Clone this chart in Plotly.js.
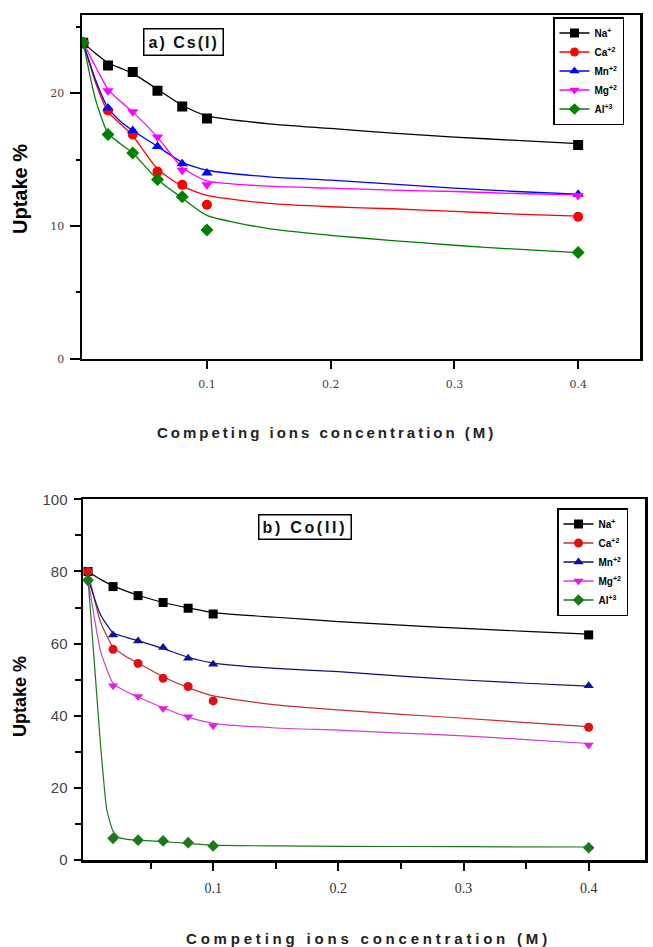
<!DOCTYPE html>
<html><head><meta charset="utf-8">
<script src="https://cdn.plot.ly/plotly-3.0.1.min.js"></script>
<style>html,body{margin:0;padding:0;background:#fff}#chart{width:653px;height:947px}</style>
</head><body><div id="chart"></div>
<script>
// ---------- data ----------
const ions = ['Na<sup>+</sup>', 'Ca<sup>+2</sup>', 'Mn<sup>+2</sup>', 'Mg<sup>+2</sup>', 'Al<sup>+3</sup>'];
const concX = [0, 0.02, 0.04, 0.06, 0.08, 0.1, 0.4];

// a) Cs(I) measured uptake %
const csNa = [23.8, 22.1, 21.6, 20.2, 19.0, 18.1, 16.1];
const csCa = [23.8, 18.7, 16.9, 14.1, 13.1, 11.6, 10.7];
const csMn = [23.8, 18.9, 17.2, 16.0, 14.7, 14.0, 12.4];
const csMg = [23.8, 20.2, 18.6, 16.7, 14.2, 13.1, 12.3];
const csAl = [23.8, 16.9, 15.5, 13.5, 12.2, 9.7, 8.0];

// a) Cs(I) fitted curves (read from picture)
const fitX = [0, 0.01, 0.02, 0.03, 0.04, 0.06, 0.08, 0.1, 0.15, 0.2, 0.25, 0.3, 0.35, 0.4];
const csNaFit = [23.8, 23.0, 22.3, 21.9, 21.5, 20.3, 19.1, 18.3, 17.7, 17.35, 17.0, 16.7, 16.45, 16.2];
const csCaFit = [23.8, 20.8, 18.6, 17.7, 16.8, 14.3, 13.0, 12.3, 11.7, 11.45, 11.3, 11.1, 10.9, 10.75];
const csMnFit = [23.8, 21.0, 18.9, 17.9, 17.2, 16.0, 14.8, 14.2, 13.7, 13.45, 13.15, 12.85, 12.6, 12.4];
const csMgFit = [23.8, 22.0, 20.3, 19.4, 18.6, 16.7, 14.4, 13.4, 13.0, 12.85, 12.7, 12.6, 12.45, 12.35];
const csAlFit = [23.8, 19.5, 17.0, 16.2, 15.5, 13.5, 12.1, 10.8, 9.8, 9.3, 8.9, 8.55, 8.25, 8.0];

// b) Co(II) measured uptake %
const coNa = [80.0, 75.8, 73.3, 71.4, 69.8, 68.2, 62.4];
const coCa = [80.0, 58.4, 54.5, 50.4, 48.1, 44.1, 36.8];
const coMn = [78.0, 62.4, 60.7, 58.9, 55.9, 54.3, 48.3];
const coMg = [77.0, 48.3, 45.3, 42.0, 39.7, 37.2, 31.9];
const coAl = [77.6, 6.0, 5.5, 5.3, 4.8, 3.9, 3.4];

// b) Co(II) fitted curves (read from picture)
const coNaFit = [80, 77.8, 76.0, 74.6, 73.4, 71.4, 69.9, 68.6, 67.3, 66.1, 65.1, 64.2, 63.4, 62.6];
const coCaFit = [80, 66, 59.0, 56.5, 54.6, 50.8, 47.8, 45.5, 43.0, 41.6, 40.4, 39.3, 38.1, 37.0];
const coMnFit = [78, 68, 63.0, 61.8, 60.8, 58.6, 56.2, 54.6, 53.1, 52.2, 51.0, 49.9, 49.0, 48.2];
const coMgFit = [78, 58, 49.0, 46.8, 45.2, 42.2, 39.6, 37.9, 36.6, 36.0, 35.2, 34.4, 33.4, 32.3];
const coAlFitX = [0, 0.005, 0.01, 0.015, 0.02, 0.025, 0.03, 0.04, 0.06, 0.08, 0.1, 0.15, 0.2, 0.3, 0.4];
const coAlFit = [78, 55, 32, 14, 8, 6.2, 5.8, 5.5, 5.1, 4.6, 4.1, 3.9, 3.8, 3.7, 3.6];

const tickValsX = [0.1, 0.2, 0.3, 0.4];
const tickTextX = ['0.1', '0.2', '0.3', '0.4'];
const tickValsYA = [0, 10, 20];
const tickValsYB = [0, 20, 40, 60, 80, 100];

const yTitle = 'Uptake %';
const xTitle = 'Competing ions concentration (M)';
const labelA = 'a) Cs(I)';
const labelB = 'b) Co(II)';

// ---------- styles ----------
const spaced = (t, px) => '<span style="letter-spacing:' + px + 'px">' + t + '</span>';
const symbols = ['square', 'circle', 'triangle-up', 'triangle-down', 'diamond'];
const colA = ['#000000', '#ff0000', '#0000ff', '#ff00ff', '#008000'];
const colB = ['#000000', '#e01010', '#1010a0', '#e020e0', '#1a7a1a'];
const lineColB = ['#000000', '#c03030', '#101070', '#d040d0', '#1a7a1a'];

const csMeas = [csNa, csCa, csMn, csMg, csAl];
const csFit = [csNaFit, csCaFit, csMnFit, csMgFit, csAlFit];
const coMeas = [coNa, coCa, coMn, coMg, coAl];
const coFit = [coNaFit, coCaFit, coMnFit, coMgFit, coAlFit];
const coFitXs = [fitX, fitX, fitX, fitX, coAlFitX];

const traces = [];
for (let i = 0; i < 5; i++) {
  traces.push({x: fitX, y: csFit[i], xaxis: 'x', yaxis: 'y', mode: 'lines', line: {color: colA[i], width: 1.3, shape: 'spline', smoothing: 0.6}, showlegend: false, hoverinfo: 'skip'});
}
for (let i = 0; i < 5; i++) {
  traces.push({x: concX, y: csMeas[i], xaxis: 'x', yaxis: 'y', mode: 'markers', marker: {symbol: symbols[i], color: colA[i], size: 10}, showlegend: false});
}
for (let i = 0; i < 5; i++) {
  traces.push({x: [null], y: [null], xaxis: 'x', yaxis: 'y', mode: 'lines+markers', name: ions[i], legend: 'legend', marker: {symbol: symbols[i], color: colA[i], size: 9}, line: {color: colA[i], width: 1.3}});
}
for (let i = 0; i < 5; i++) {
  traces.push({x: coFitXs[i], y: coFit[i], xaxis: 'x2', yaxis: 'y2', mode: 'lines', line: {color: lineColB[i], width: 1.2, shape: 'spline', smoothing: 0.5}, showlegend: false, hoverinfo: 'skip'});
}
for (let i = 0; i < 5; i++) {
  traces.push({x: concX, y: coMeas[i], xaxis: 'x2', yaxis: 'y2', mode: 'markers', marker: {symbol: symbols[i], color: colB[i], size: 9}, showlegend: false});
}
for (let i = 0; i < 5; i++) {
  traces.push({x: [null], y: [null], xaxis: 'x2', yaxis: 'y2', mode: 'lines+markers', name: ions[i], legend: 'legend2', marker: {symbol: symbols[i], color: colB[i], size: 9}, line: {color: lineColB[i], width: 1.3}});
}

const W = 653, H = 947;
const frame = {showline: true, mirror: true, linecolor: '#000', linewidth: 2.5, showgrid: false, zeroline: false, ticks: 'outside', tickcolor: '#000', tickwidth: 2, automargin: false, fixedrange: true};

const layout = {
  width: W, height: H,
  margin: {l: 0, r: 0, t: 0, b: 0},
  paper_bgcolor: '#fff', plot_bgcolor: '#fff',
  font: {family: 'Liberation Sans, Arial, sans-serif', color: '#000'},
  showlegend: true,
  xaxis: Object.assign({}, frame, {domain: [82 / W, 640 / W], range: [-0.001, 0.450], anchor: 'y',
    tickvals: tickValsX, ticktext: tickTextX, ticklen: 8, ticklabelstandoff: 6,
    tickfont: {size: 11, color: '#444', family: 'DejaVu Serif'}}),
  yaxis: Object.assign({}, frame, {domain: [1 - 358.7 / H, 1 - 15 / H], range: [0, 25.9], anchor: 'x',
    tickvals: tickValsYA, ticklen: 10, ticklabelstandoff: 3,
    minor: {tickvals: [5, 15, 25], ticklen: 4, tickcolor: '#000', tickwidth: 2, ticks: 'outside'},
    tickfont: {size: 11, color: '#444', family: 'DejaVu Serif'}}),
  xaxis2: Object.assign({}, frame, {domain: [83 / W, 645 / W], range: [-0.004, 0.445], anchor: 'y2',
    tickvals: tickValsX, ticktext: tickTextX, ticklen: 8, ticklabelstandoff: 6,
    minor: {tickvals: [0.05, 0.15, 0.25, 0.35], ticklen: 6, tickcolor: '#000', tickwidth: 2, ticks: 'outside'},
    tickfont: {size: 14, color: '#333', family: 'Liberation Serif'}}),
  yaxis2: Object.assign({}, frame, {domain: [1 - 860 / H, 1 - 499.3 / H], range: [0, 100], anchor: 'x2',
    tickvals: tickValsYB, ticklen: 7, ticklabelstandoff: 3,
    minor: {tickvals: [10, 30, 50, 70, 90], ticklen: 6, tickcolor: '#000', tickwidth: 2, ticks: 'outside'},
    tickfont: {size: 15, color: '#444', family: 'Liberation Sans'}}),
  legend: {x: 553 / W, y: 1 - 17 / H, xanchor: 'left', yanchor: 'top', bgcolor: '#fff', bordercolor: '#000', borderwidth: 1.5,
    font: {size: 10, family: 'Liberation Sans', color: '#000', weight: 'bold'}, tracegroupgap: 0, itemwidth: 30},
  legend2: {x: 557 / W, y: 1 - 508 / H, xanchor: 'left', yanchor: 'top', bgcolor: '#fff', bordercolor: '#000', borderwidth: 1.5,
    font: {size: 10, family: 'Liberation Sans', color: '#000', weight: 'bold'}, tracegroupgap: 0, itemwidth: 30},
  annotations: [
    {text: spaced(labelA, 2), xref: 'paper', yref: 'paper', x: 183 / W, y: 1 - 42 / H, xanchor: 'center', yanchor: 'middle', showarrow: false,
     font: {size: 16, family: 'Liberation Sans', weight: 'bold', color: '#111'}, bordercolor: '#000', borderwidth: 1.5, borderpad: 4, bgcolor: '#fff'},
    {text: spaced(labelB, 2.7), xref: 'paper', yref: 'paper', x: 305 / W, y: 1 - 527 / H, xanchor: 'center', yanchor: 'middle', showarrow: false,
     font: {size: 16, family: 'Liberation Sans', weight: 'bold', color: '#111'}, bordercolor: '#000', borderwidth: 1.5, borderpad: 3, bgcolor: '#fff'},
    {text: yTitle, xref: 'paper', yref: 'paper', x: 20 / W, y: 1 - 189 / H, xanchor: 'center', yanchor: 'middle', textangle: -90, showarrow: false,
     font: {size: 20, family: 'Liberation Sans', weight: 'bold'}},
    {text: yTitle, xref: 'paper', yref: 'paper', x: 20 / W, y: 1 - 697 / H, xanchor: 'center', yanchor: 'middle', textangle: -90, showarrow: false,
     font: {size: 18, family: 'Liberation Sans', weight: 'bold'}},
    {text: spaced(xTitle, 3), xref: 'paper', yref: 'paper', x: 326 / W, y: 1 - 432 / H, xanchor: 'center', yanchor: 'middle', showarrow: false,
     font: {size: 15, family: 'Liberation Sans', weight: 'bold', color: '#222'}},
    {text: spaced(xTitle, 3.8), xref: 'paper', yref: 'paper', x: 368 / W, y: 1 - 938 / H, xanchor: 'center', yanchor: 'middle', showarrow: false,
     font: {size: 15, family: 'Liberation Sans', weight: 'bold', color: '#222'}}
  ]
};

Plotly.newPlot('chart', traces, layout, {staticPlot: true, displayModeBar: false});
</script>
</body></html>
